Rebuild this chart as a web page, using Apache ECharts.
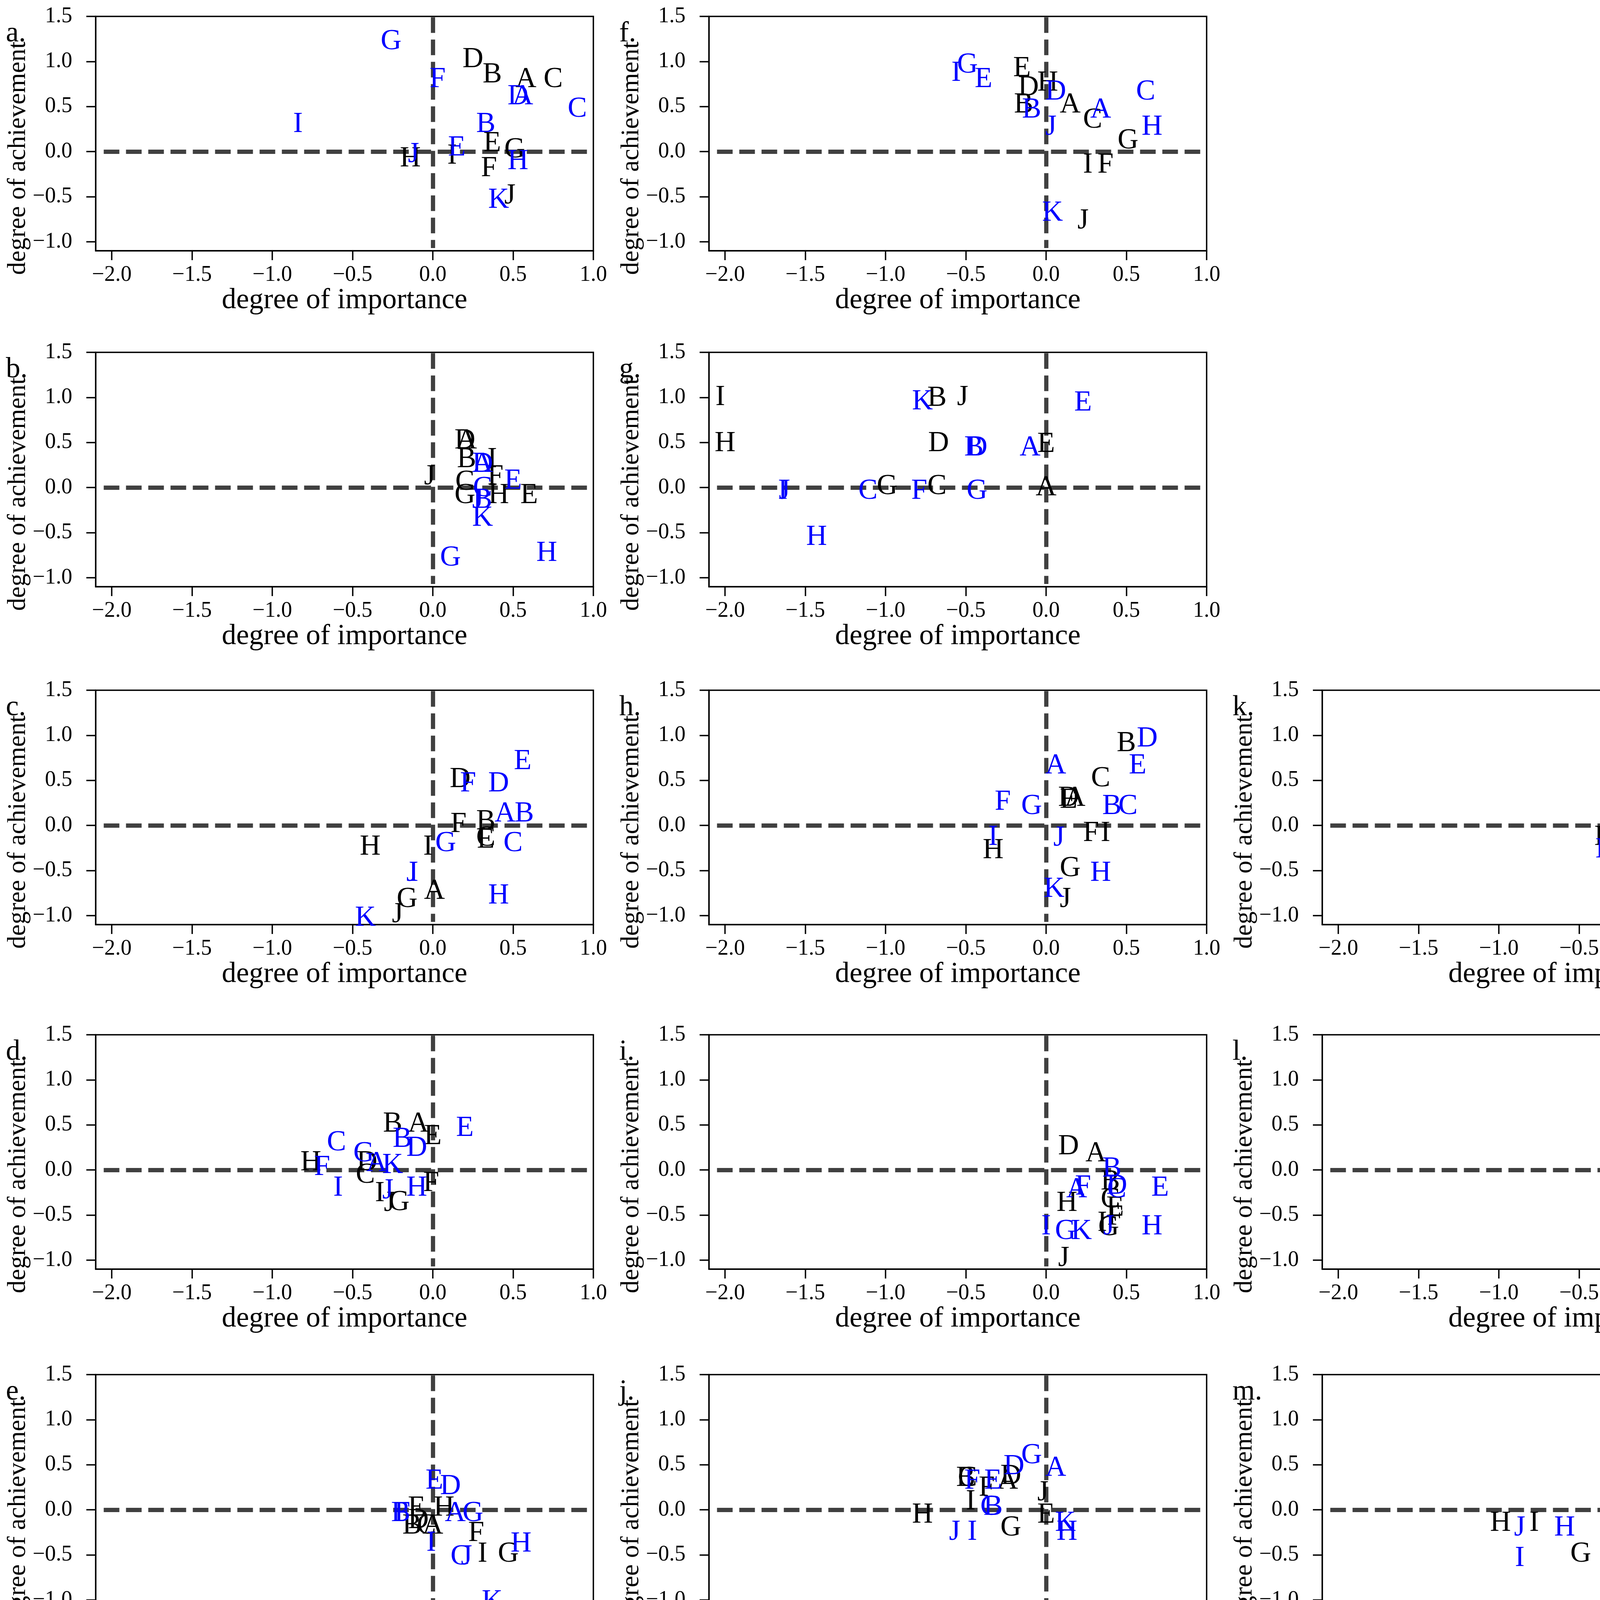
<!DOCTYPE html>
<html>
<head>
<meta charset="utf-8">
<script src="https://cdn.jsdelivr.net/npm/echarts@6/dist/echarts.min.js"></script>
<style>
html, body { margin: 0; padding: 0; background: #fff; }
#chart { width: 4719px; height: 4310px; }
</style>
</head>
<body>
<div id="chart"></div>
<script>
// each entry: [letter, degree of importance, degree of achievement]
var a_black = [['A',0.58,0.80],['B',0.37,0.85],['C',0.75,0.80],['D',0.25,1.02],['E',0.37,0.09],['F',0.35,-0.19],['G',0.51,0.02],['H',-0.14,-0.08],['I',0.12,-0.05],['J',0.48,-0.49]];
var a_blue = [['A',0.56,0.61],['B',0.33,0.30],['C',0.90,0.47],['D',0.53,0.61],['E',0.15,0.04],['F',0.03,0.80],['G',-0.26,1.22],['H',0.53,-0.11],['I',-0.84,0.30],['J',-0.12,-0.03],['K',0.41,-0.54]];

var b_black = [['A',0.21,0.52],['B',0.21,0.31],['C',0.20,0.06],['D',0.20,0.52],['E',0.60,-0.09],['F',0.39,0.12],['G',0.20,-0.09],['H',0.41,-0.09],['I',0.37,0.31],['J',-0.02,0.12]];
var b_blue = [['A',0.31,0.26],['B',0.31,-0.14],['C',0.31,-0.01],['D',0.31,0.26],['E',0.50,0.07],['J',0.28,-0.14],['K',0.31,-0.34],['G',0.11,-0.78],['H',0.71,-0.73]];

var c_black = [['A',0.01,-0.73],['B',0.33,0.04],['C',0.33,-0.14],['D',0.17,0.51],['E',0.33,-0.16],['F',0.16,0.01],['G',-0.16,-0.82],['H',-0.39,-0.24],['I',-0.03,-0.24],['J',-0.22,-0.99]];
var c_blue = [['A',0.45,0.13],['B',0.57,0.13],['C',0.50,-0.20],['D',0.41,0.46],['E',0.56,0.71],['F',0.22,0.46],['G',0.08,-0.20],['H',0.41,-0.78],['I',-0.12,-0.53],['J',-0.13,-0.53],['K',-0.42,-1.03]];

var d_black = [['A',-0.09,0.51],['B',-0.25,0.51],['C',-0.42,-0.06],['D',-0.41,0.08],['E',0.00,0.37],['F',-0.01,-0.15],['G',-0.21,-0.36],['H',-0.76,0.08],['I',-0.33,-0.26],['J',-0.27,-0.37]];
var d_blue = [['A',-0.35,0.07],['B',-0.19,0.34],['C',-0.60,0.30],['D',-0.10,0.24],['E',0.20,0.46],['F',-0.69,0.03],['G',-0.43,0.18],['H',-0.10,-0.20],['I',-0.59,-0.20],['J',-0.28,-0.23],['K',-0.25,0.05]];

var e_black = [['A',0.00,-0.18],['B',-0.13,-0.18],['C',-0.04,-0.18],['D',-0.09,-0.12],['E',-0.10,0.02],['F',0.27,-0.26],['G',0.47,-0.49],['H',0.07,0.02],['I',0.31,-0.49],['J',0.34,-1.13]];
var e_blue = [['A',0.14,-0.04],['B',-0.20,-0.04],['C',0.17,-0.52],['D',0.11,0.26],['E',0.01,0.32],['F',-0.19,-0.04],['G',0.25,-0.04],['H',0.55,-0.38],['I',-0.01,-0.37],['J',0.21,-0.52],['K',0.37,-1.02]];

var f_black = [['A',0.15,0.52],['B',-0.14,0.52],['C',0.29,0.35],['D',-0.11,0.71],['E',-0.15,0.92],['F',0.37,-0.15],['G',0.51,0.12],['H',0.01,0.76],['I',0.26,-0.15],['J',0.23,-0.77]];
var f_blue = [['A',0.34,0.46],['B',-0.09,0.46],['C',0.62,0.66],['D',0.06,0.66],['E',-0.39,0.80],['G',-0.49,0.96],['H',0.66,0.27],['I',-0.56,0.87],['J',0.03,0.27],['K',0.04,-0.68]];

var g_black = [['A',0.00,0.00],['B',-0.68,0.99],['C',-0.68,0.01],['D',-0.67,0.49],['E',0.00,0.48],['G',-0.99,0.01],['H',-2.00,0.49],['I',-2.03,1.00],['J',-0.52,1.00]];
var g_blue = [['A',-0.10,0.44],['B',-0.45,0.44],['C',-1.11,-0.04],['D',-0.43,0.44],['E',0.23,0.94],['F',-0.79,-0.04],['G',-0.43,-0.04],['H',-1.43,-0.55],['I',-1.64,-0.04],['J',-1.63,-0.04],['K',-0.77,0.95]];

var h_black = [['A',0.18,0.30],['B',0.50,0.91],['C',0.34,0.52],['D',0.14,0.30],['E',0.14,0.28],['F',0.28,-0.09],['G',0.15,-0.48],['H',-0.33,-0.28],['I',0.37,-0.09],['J',0.12,-0.82]];
var h_blue = [['A',0.06,0.66],['B',0.41,0.21],['C',0.51,0.21],['D',0.63,0.96],['E',0.57,0.66],['F',-0.27,0.26],['G',-0.09,0.21],['H',0.34,-0.53],['I',-0.33,-0.13],['J',0.08,-0.14],['K',0.05,-0.71]];

var i_black = [['A',0.31,0.18],['B',0.40,-0.13],['C',0.40,-0.33],['D',0.14,0.26],['E',0.43,-0.42],['F',0.43,-0.52],['G',0.39,-0.64],['H',0.13,-0.37],['I',0.35,-0.59],['J',0.11,-0.98]];
var i_blue = [['A',0.19,-0.22],['B',0.41,0.01],['C',0.44,-0.22],['D',0.44,-0.18],['E',0.71,-0.20],['F',0.23,-0.19],['G',0.12,-0.68],['H',0.66,-0.63],['I',0.00,-0.63],['J',0.39,-0.63],['K',0.22,-0.68]];

var j_black = [['A',-0.24,0.32],['B',-0.50,0.35],['C',-0.49,0.35],['D',-0.22,0.37],['E',0.00,-0.06],['F',-0.37,0.24],['G',-0.22,-0.20],['H',-0.77,-0.06],['I',-0.47,0.09],['J',-0.02,0.19]];
var j_blue = [['A',0.06,0.46],['B',-0.33,0.03],['C',-0.35,0.03],['D',-0.20,0.48],['E',-0.33,0.32],['F',-0.46,0.32],['G',-0.09,0.60],['H',0.13,-0.25],['I',-0.46,-0.25],['J',-0.57,-0.25],['K',0.12,-0.15]];

var k_black = [['A',0.06,-0.15],['B',0.00,0.26],['C',0.04,-0.12],['D',-0.05,0.44],['E',0.08,0.35],['F',0.31,-0.06],['G',0.05,-0.48],['H',-0.34,-0.13],['I',-0.03,-0.15],['J',0.11,-0.77]];
var k_blue = [['A',0.16,0.14],['B',0.17,0.24],['C',0.09,-0.09],['D',0.11,0.47],['E',0.35,0.73],['F',-0.11,0.19],['G',-0.19,-0.09],['H',0.32,-0.35],['I',-0.37,-0.27],['J',-0.12,-0.40],['K',0.09,-0.64]];

var l_black = [['A',0.22,0.91],['B',0.12,0.61],['C',0.19,0.42],['D',-0.05,0.24],['E',0.29,-0.07],['F',0.17,-0.34],['G',0.41,-0.07],['H',0.02,0.11],['I',0.29,-0.18],['J',0.11,-0.37]];
var l_blue = [['A',0.11,0.27],['B',0.07,0.06],['C',0.28,0.30],['D',0.38,0.23],['E',0.19,0.00],['F',-0.31,0.01],['G',-0.02,0.05],['H',0.62,-0.47],['I',-0.12,0.05],['J',0.29,-0.15],['K',0.08,-0.27]];

var m_black = [['A',0.00,0.18],['B',0.00,0.18],['C',0.00,0.51],['D',0.01,0.85],['E',0.00,-0.24],['F',-0.26,0.27],['G',-0.49,-0.49],['H',-0.99,-0.15],['I',-0.78,-0.15],['J',-0.27,-0.49]];
var m_blue = [['A',0.25,0.96],['B',-0.09,0.13],['C',0.15,0.13],['D',-0.09,0.46],['E',-0.10,-0.29],['F',-0.11,0.80],['G',0.16,0.80],['H',-0.59,-0.20],['I',-0.87,-0.54],['J',-0.87,-0.20],['K',-0.09,-0.54]];

var panelNames = ['a.','b.','c.','d.','e.','f.','g.','h.','i.','j.','k.','l.','m.'];
var panelBlack = [a_black,b_black,c_black,d_black,e_black,f_black,g_black,h_black,i_black,j_black,k_black,l_black,m_black];
var panelBlue = [a_blue,b_blue,c_blue,d_blue,e_blue,f_blue,g_blue,h_blue,i_blue,j_blue,k_blue,l_blue,m_blue];

var xTicks = [-2.0,-1.5,-1.0,-0.5,0.0,0.5,1.0];
var yTicks = [-1.0,-0.5,0.0,0.5,1.0,1.5];
var xRange = [-2.1, 1.0];
var yRange = [-1.1, 1.5];

// layout of the 3 x 5 panel grid (pixels)
var colLeft = [245, 1815, 3385];
var rowTop = [42, 902, 1767, 2649, 3519];
var cell = [[0,0],[0,1],[0,2],[0,3],[0,4],[1,0],[1,1],[1,2],[1,3],[1,4],[2,2],[2,3],[2,4]];
var W = 1274, H = 600;

var FONT = '"Liberation Serif", "Times New Roman", serif';

function fmt(v) {
	var s = Math.abs(v).toFixed(1);
	return v < -1e-9 ? '\u2212' + s : s;
}

function toData(rows) {
	return rows.map(function (r) { return { name: r[0], value: [r[1], r[2]] }; });
}

var grids = [], xAxes = [], yAxes = [], series = [], titles = [];

panelNames.forEach(function (name, i) {
	var left = colLeft[cell[i][0]], top = rowTop[cell[i][1]];
	grids.push({
		left: left, top: top, width: W, height: H,
		show: true, borderColor: '#000', borderWidth: 3.5, backgroundColor: '#fff',
		containLabel: false, outerBoundsMode: 'none'
	});
	xAxes.push({
		gridIndex: i, type: 'value', min: xRange[0], max: xRange[1],
		name: 'degree of importance', nameLocation: 'middle', nameGap: 86,
		nameTextStyle: { fontFamily: FONT, fontSize: 74, color: '#000' },
		axisLine: { show: true, onZero: false, lineStyle: { color: '#000', width: 3.5 } },
		axisTick: { show: true, inside: false, length: 24, lineStyle: { color: '#000', width: 3.5 }, customValues: xTicks },
		axisLabel: { show: true, margin: 34, fontFamily: FONT, fontSize: 56, color: '#000', customValues: xTicks, formatter: fmt },
		splitLine: { show: false }
	});
	yAxes.push({
		gridIndex: i, type: 'value', min: yRange[0], max: yRange[1],
		name: 'degree of achievement', nameLocation: 'middle', nameGap: 158, nameRotate: 90,
		nameTextStyle: { fontFamily: FONT, fontSize: 66, color: '#000', padding: [0, 126, 0, 0] },
		axisLine: { show: true, onZero: false, lineStyle: { color: '#000', width: 3.5 } },
		axisTick: { show: true, inside: false, length: 24, lineStyle: { color: '#000', width: 3.5 }, customValues: yTicks },
		axisLabel: { show: true, margin: 60, fontFamily: FONT, fontSize: 56, color: '#000', customValues: yTicks, formatter: fmt },
		splitLine: { show: false }
	});
	titles.push({
		text: name, left: left - 230, top: top + 8, padding: 0,
		textStyle: { fontFamily: FONT, fontSize: 74, fontWeight: 'normal', color: '#000' }
	});

	var lbl = function (color) {
		return {
			show: true, position: 'inside', align: 'center', verticalAlign: 'middle',
			formatter: function (p) { return p.name; },
			fontFamily: FONT, fontSize: 74, color: color, opacity: 1,
			textBorderWidth: 0, textShadowBlur: 0
		};
	};
	series.push({
		type: 'scatter', xAxisIndex: i, yAxisIndex: i, clip: false,
		symbolSize: 1, itemStyle: { color: 'rgba(0,0,0,0)' },
		label: lbl('#000000'), emphasis: { disabled: true }, silent: true, z: 3,
		data: toData(panelBlack[i]),
		markLine: {
			silent: true, z: 1, symbol: ['none', 'none'], label: { show: false },
			emphasis: { disabled: true },
			lineStyle: { color: '#404040', width: 10.8, type: [40, 17], cap: 'butt', opacity: 1 },
			data: [
				[{ coord: [-2.05, 0] }, { coord: [1.0, 0] }],
				[{ coord: [0, 1.49] }, { coord: [0, -1.07] }]
			]
		}
	});
	series.push({
		type: 'scatter', xAxisIndex: i, yAxisIndex: i, clip: false,
		symbolSize: 1, itemStyle: { color: 'rgba(0,0,0,0)' },
		label: lbl('#0000ff'), emphasis: { disabled: true }, silent: true, z: 4,
		data: toData(panelBlue[i])
	});
});

var chart = echarts.init(document.getElementById('chart'));
chart.setOption({
	animation: false,
	backgroundColor: '#fff',
	title: titles,
	grid: grids,
	xAxis: xAxes,
	yAxis: yAxes,
	series: series
});
</script>
</body>
</html>
